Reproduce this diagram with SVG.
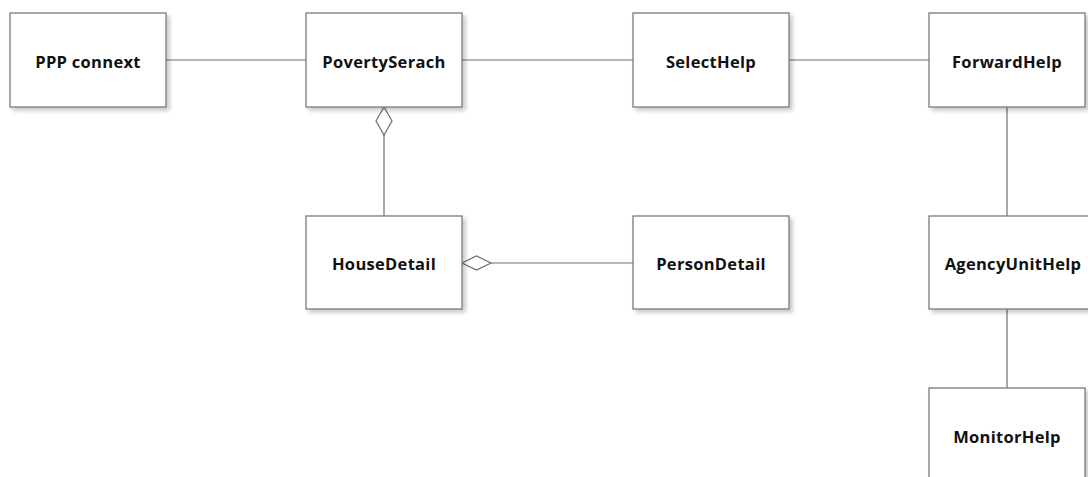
<svg xmlns="http://www.w3.org/2000/svg" width="1088" height="477" viewBox="0 0 1088 477">
<style>
.box{fill:#ffffff;stroke:#7a7a7a;stroke-width:1.3;filter:url(#sh)}
.lbl{font-family:"Open Sans","Noto Sans",sans-serif;font-weight:bold;font-size:16.5px;fill:#111;text-anchor:middle;letter-spacing:0.3px}
.ln{stroke:#6e6e6e;stroke-width:1.2;fill:none}
.dia{fill:#ffffff;stroke:#6e6e6e;stroke-width:1.2}
</style>
<defs>
<filter id="sh" x="-10%" y="-10%" width="130%" height="130%">
<feDropShadow dx="3" dy="3" stdDeviation="2" flood-color="#000" flood-opacity="0.22"/>
</filter>
</defs>
<rect width="1088" height="477" fill="#ffffff"/>
<g id="connectors">
<line class="ln" x1="166" y1="60" x2="306" y2="60"/>
<line class="ln" x1="462" y1="60" x2="633" y2="60"/>
<line class="ln" x1="789" y1="60" x2="929" y2="60"/>
<line class="ln" x1="384" y1="135" x2="384" y2="216"/>
<polygon class="dia" points="384,107 392,121 384,135 376,121"/>
<line class="ln" x1="491" y1="263" x2="633" y2="263"/>
<polygon class="dia" points="462,263 476.5,256 491,263 476.5,270"/>
<line class="ln" x1="1007" y1="107" x2="1007" y2="216"/>
<line class="ln" x1="1007" y1="309" x2="1007" y2="388"/>
</g>
<g id="ppp"><rect class="box" x="10" y="13" width="156" height="94"/><text class="lbl" x="88" y="68">PPP connext</text></g>
<g id="poverty"><rect class="box" x="306" y="13" width="156" height="94"/><text class="lbl" x="384" y="68">PovertySerach</text></g>
<g id="select"><rect class="box" x="633" y="13" width="156" height="94"/><text class="lbl" x="711" y="68">SelectHelp</text></g>
<g id="forward"><rect class="box" x="929" y="13" width="156" height="94"/><text class="lbl" x="1007" y="68">ForwardHelp</text></g>
<g id="house"><rect class="box" x="306" y="216" width="156" height="93"/><text class="lbl" x="384" y="270">HouseDetail</text></g>
<g id="person"><rect class="box" x="633" y="216" width="156" height="93"/><text class="lbl" x="711" y="270">PersonDetail</text></g>
<g id="agency"><rect class="box" x="929" y="216" width="168" height="93"/><text class="lbl" x="1013" y="270">AgencyUnitHelp</text></g>
<g id="monitor"><rect class="box" x="929" y="388" width="156" height="93"/><text class="lbl" x="1007" y="443">MonitorHelp</text></g>
</svg>
